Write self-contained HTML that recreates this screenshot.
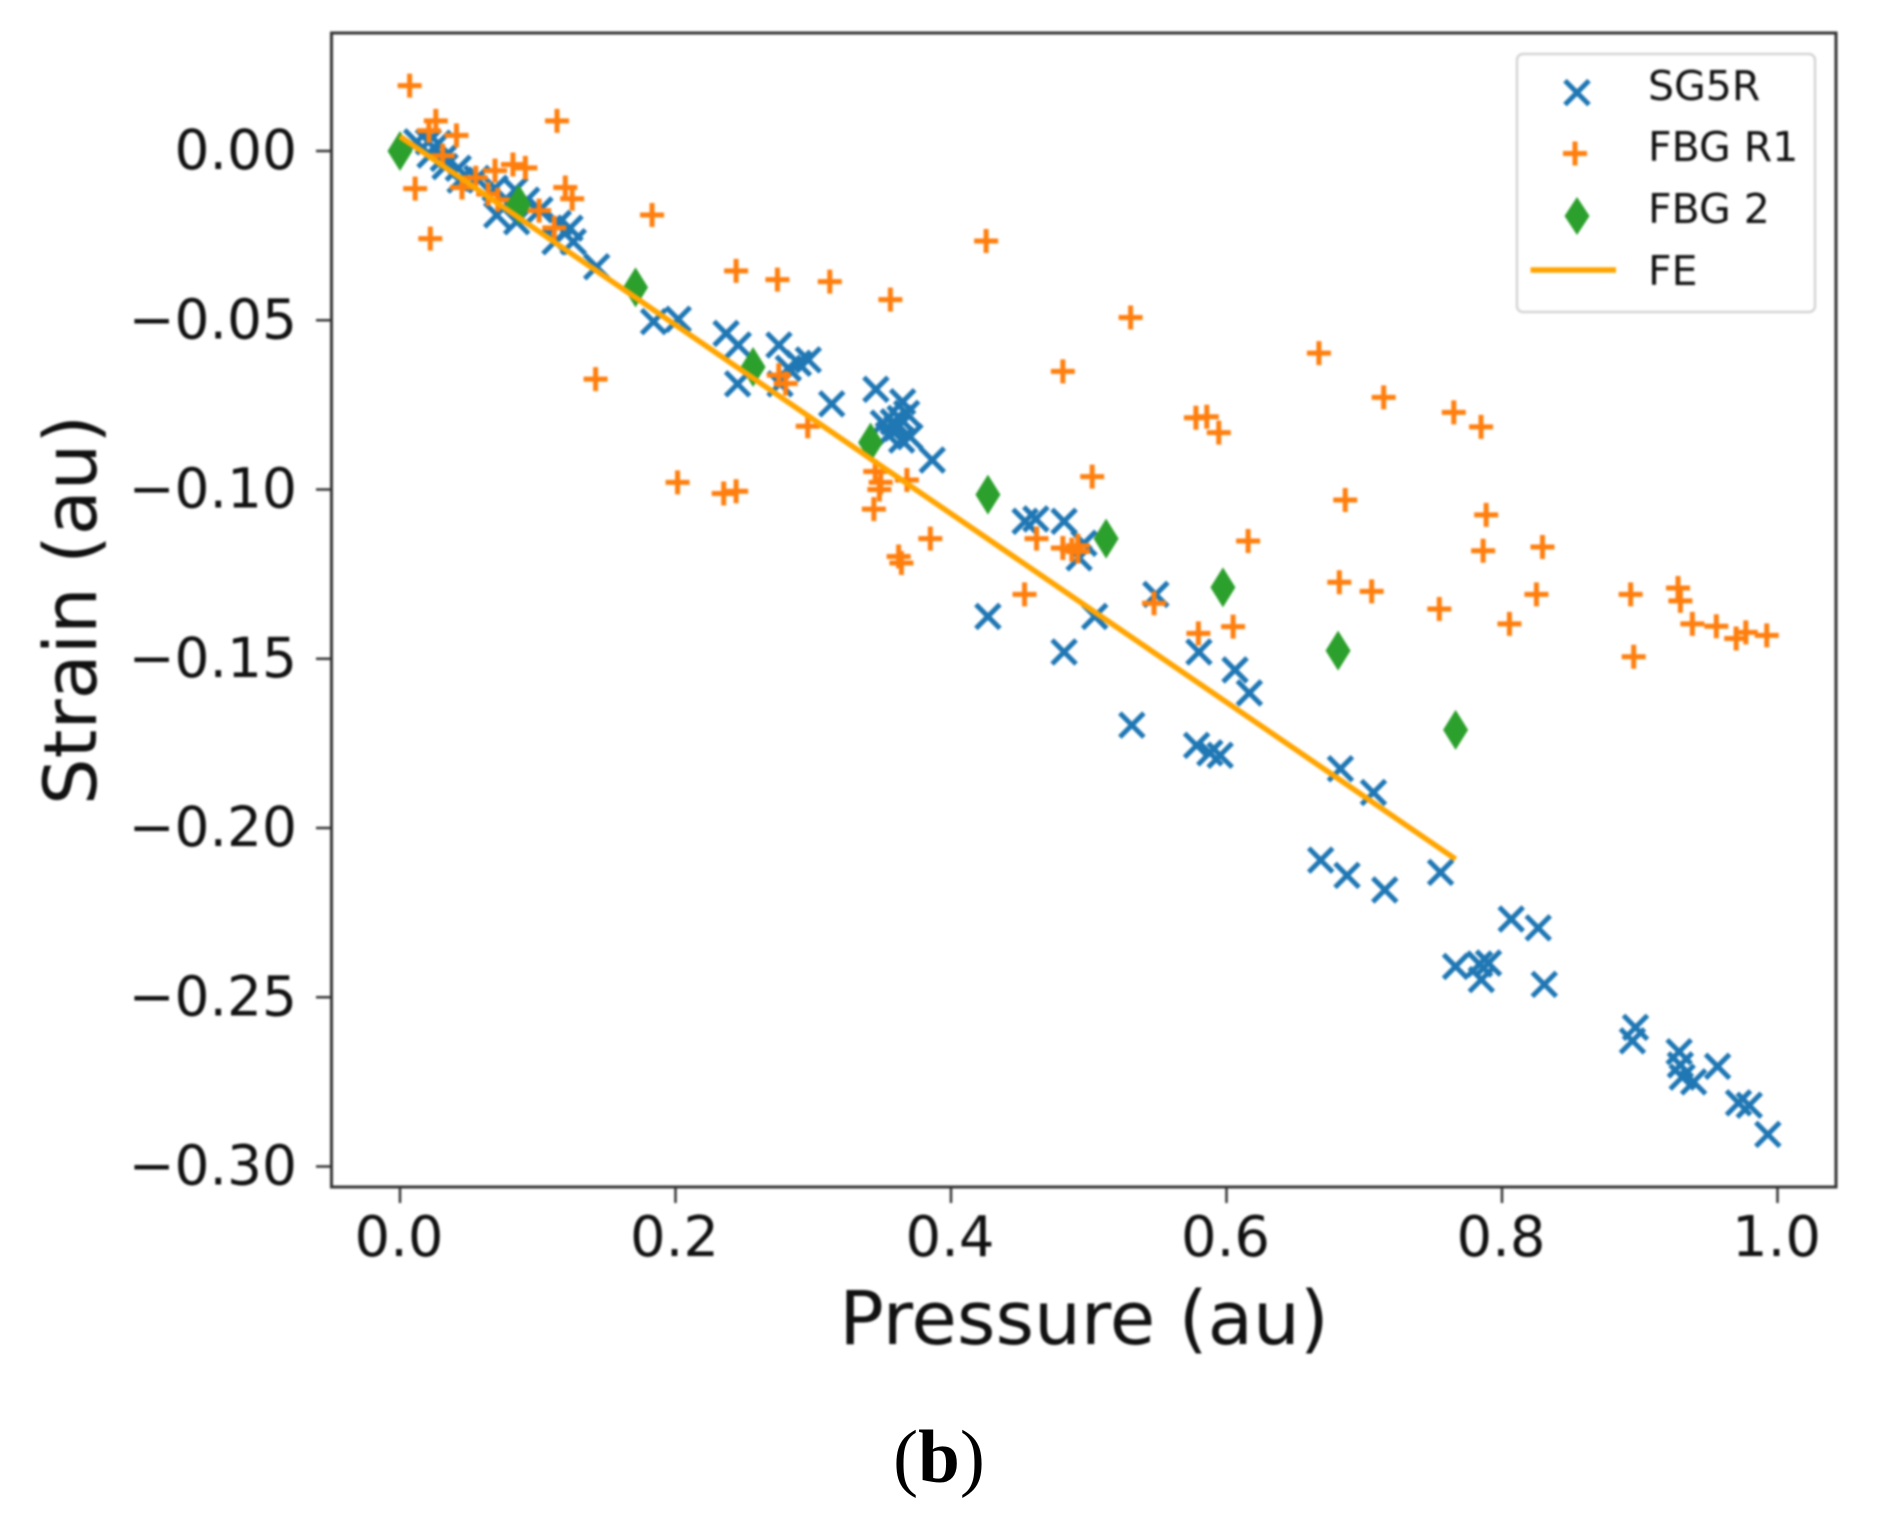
<!DOCTYPE html>
<html lang="en">
<head>
<meta charset="utf-8">
<title>Strain vs Pressure</title>
<style>
  html, body { margin: 0; padding: 0; background: #fff; }
  #stage { position: relative; width: 1877px; height: 1528px; overflow: hidden; background: #fff; }
  #chart { position: absolute; left: 0; top: 0; filter: blur(1px); }
  #chart text { font-family: "DejaVu Sans", "Liberation Sans", sans-serif; fill: #111; }
  #caption { position: absolute; left: 0; top: 0; }
  #caption text { font-family: "Liberation Serif", serif; fill: #000; }
</style>
</head>
<body>
<div id="stage">
  <svg id="chart" width="1877" height="1528" viewBox="0 0 1877 1528" xmlns="http://www.w3.org/2000/svg">
    <g id="marks-sg5r"></g>
    <g id="marks-fbgr1"></g>
    <g id="marks-fbg2"></g>
    <g id="marks-fe"></g>
    <rect x="331.5" y="33" width="1504.5" height="1154" fill="none" stroke="#333" stroke-width="3"/>
    <g id="x-axis"></g>
    <g id="y-axis"></g>
    <text x="1084" y="1344" font-size="74" text-anchor="middle">Pressure (au)</text>
    <text transform="translate(96 610) rotate(-90)" font-size="73.5" text-anchor="middle">Strain (au)</text>
    <g>
      <rect x="1517" y="54" width="298" height="258" rx="6" ry="6" fill="#fff" fill-opacity="0.8" stroke="#d4d4d4" stroke-width="2.5"/>
      <path d="M1565 80.600L1589 104.600M1565 104.600L1589 80.600" fill="none" stroke="#1f77b4" stroke-width="5"/>
      <text x="1648" y="100" font-size="41">SG5R</text>
      <path d="M1563 153.500L1587 153.500M1575 141.500L1575 165.500" fill="none" stroke="#ff7f0e" stroke-width="5"/>
      <text x="1648" y="161" font-size="41">FBG R1</text>
      <path d="M1577 197L1589.500 216L1577 235L1564.500 216Z" fill="#2ca02c"/>
      <text x="1648" y="223" font-size="41">FBG 2</text>
      <line x1="1530.500" y1="270" x2="1616" y2="270" stroke="#ffa500" stroke-width="5.5"/>
      <text x="1648" y="285" font-size="41">FE</text>
    </g>
  </svg>
  <svg id="caption" width="1877" height="1528" viewBox="0 0 1877 1528" xmlns="http://www.w3.org/2000/svg">
    <text x="939" y="1482" font-size="75" text-anchor="middle">(<tspan font-weight="bold">b</tspan>)</text>
  </svg>
</div>
<script>
var xTickValues = [0, 0.2, 0.4, 0.6, 0.8, 1.0];
var xTickLabels = ["0.0", "0.2", "0.4", "0.6", "0.8", "1.0"];
var yTickValues = [0, -0.05, -0.10, -0.15, -0.20, -0.25, -0.30];
var yTickLabels = ["0.00", "\u22120.05", "\u22120.10", "\u22120.15", "\u22120.20", "\u22120.25", "\u22120.30"];

var sg5rPressure = [
  .0121, .0206, .0278, .0218, .0314, .0423, .0327, .0436, .0557, .0690,
  .0835, .0702, .0847, .0920, .1016, .1149, .1234, .1125, .1258, .1428,
  .1841, .2020, .2367, .2456, .2451, .2751, .2964, .2892, .2819, .2759,
  .3134, .3455, .3649, .3509, .3678, .3581, .3630, .3606, .3702, .3642,
  .3545, .3864, .4268, .4538, .4616, .4821, .4930, .4965, .4821, .5043,
  .5487, .5313, .5800, .6062, .6166, .5783, .5879, .5954, .6827, .7067,
  .6684, .6875, .7149, .7554, .8067, .8263, .7663, .7837, .7902, .7850,
  .8307, .8969, .8947, .9286, .9295, .9308, .9391, .9565, .9717, .9795,
  .9930
];
var sg5rStrain = [
  .0027, .0027, .0023, -.0012, -.0022, -.0051, -.0046, -.0086, -.0081, -.0110,
  -.0115, -.0189, -.0209, -.0145, -.0174, -.0214, -.0228, -.0268, -.0268, -.0342,
  -.0504, -.0497, -.0539, -.0573, -.0688, -.0573, -.0617, -.0627, -.0642, -.0688,
  -.0747, -.0704, -.0741, -.0804, -.0775, -.0800, -.0790, -.0819, -.0844, -.0854,
  -.0839, -.0913, -.1375, -.1094, -.1087, -.1094, -.1202, -.1159, -.1480, -.1375,
  -.1310, -.1696, -.1480, -.1533, -.1601, -.1756, -.1778, -.1785, -.1825, -.1895,
  -.2095, -.2140, -.2183, -.2131, -.2269, -.2295, -.2409, -.2402, -.2399, -.2448,
  -.2462, -.2589, -.2629, -.2661, -.2700, -.2736, -.2750, -.2704, -.2812, -.2819,
  -.2905
];

var fbgR1Pressure = [
  .007, .026, .021, .041, .031, .011, .022, .045, .055, .069,
  .082, .091, .114, .120, .125, .064, .071, .101, .112, .183,
  .244, .274, .312, .356, .142, .275, .280, .296, .2015, .235,
  .244, .345, .349, .348, .344, .368, .362, .364, .385,
  .4255, .5304, .4812, .6671, .7141, .5778, .5857, .5944, .7650, .7848,
  .5025, .6862, .7885, .4621, .6157, .4812, .4921, .4921, .4877, .7863,
  .8294, .4534, .5474, .6819, .7054, .8250, .8934, .9278, .9295, .7545,
  .8054, .9382, .9556, .9700, .9770, .9922, .6048, .5796, .8956
];
var fbgR1Strain = [
  .0193, .0089, .0060, .0046, -.0014, -.0111, -.0259, -.0108, -.0079, -.0058,
  -.0040, -.0050, .0089, -.0108, -.0141, -.0127, -.0144, -.0176, -.0227, -.0189,
  -.0354, -.0380, -.0386, -.0439, -.0674, -.0662, -.0687, -.0813, -.0979, -.1012,
  -.1005, -.0947, -.0979, -.1000, -.1058, -.0972, -.1198, -.1217, -.1145,
  -.0266, -.0492, -.0651, -.0597, -.0728, -.0788, -.0785, -.0832, -.0772, -.0815,
  -.0962, -.1031, -.1075, -.1145, -.1152, -.1173, -.1166, -.1183, -.1178, -.1181,
  -.1170, -.1310, -.1336, -.1274, -.1301, -.1310, -.1310, -.1291, -.1329, -.1353,
  -.1397, -.1397, -.1404, -.1440, -.1422, -.1431, -.1405, -.1425, -.1494
];

var fbg2Pressure = [0, .0862, .1710, .2563, .3416, .4268, .5126, .5974, .6810, .7663];
var fbg2Strain = [0, -.0158, -.0403, -.0638, -.0861, -.1015, -.1145, -.1289, -.1476, -.1710];

var fePressure = [0.0, .0862, .1710, .2563, .3416, .4268, .5126, .5974, .6810, .7663];
var feStrain = [.0043, -.0197, -.0433, -.0671, -.0909, -.1146, -.1385, -.1621, -.1854, -.2092];

function xScale(v) { return 400 + 1377.5 * v; }
function yScale(v) { return 151 - 3385 * v; }

var SVGNS = "http://www.w3.org/2000/svg";
function make(tag, parent) {
  var el = document.createElementNS(SVGNS, tag);
  parent.appendChild(el);
  return el;
}

var xAxisGroup = document.getElementById("x-axis");
xTickValues.forEach(function (v, i) {
  var tick = make("line", xAxisGroup);
  
  
  tick.setAttribute("x1", xScale(v));
  tick.setAttribute("x2", xScale(v));
  tick.setAttribute("y1", 1187);
  tick.setAttribute("y2", 1203);
  tick.setAttribute("stroke", "#333");
  tick.setAttribute("stroke-width", 2.5);
  var label = make("text", xAxisGroup);
  
  
  label.setAttribute("x", xScale(v) - 1);
  label.setAttribute("y", 1256);
  label.setAttribute("font-size", 56);
  label.setAttribute("text-anchor", "middle");
  label.textContent = xTickLabels[i];
});

var yAxisGroup = document.getElementById("y-axis");
yTickValues.forEach(function (v, i) {
  var tick = make("line", yAxisGroup);
  
  
  tick.setAttribute("x1", 316);
  tick.setAttribute("x2", 331.5);
  tick.setAttribute("y1", yScale(v));
  tick.setAttribute("y2", yScale(v));
  tick.setAttribute("stroke", "#333");
  tick.setAttribute("stroke-width", 2.5);
  var label = make("text", yAxisGroup);
  
  
  label.setAttribute("x", 297);
  label.setAttribute("y", yScale(v) + 18);
  label.setAttribute("font-size", 55);
  label.setAttribute("text-anchor", "end");
  label.textContent = yTickLabels[i];
});

var sg5rGroup = document.getElementById("marks-sg5r");
sg5rPressure.forEach(function (p, i) {
  var cx = xScale(p), cy = yScale(sg5rStrain[i]), r = 12;
  var mark = make("path", sg5rGroup);
  
  
  mark.setAttribute("d", "M" + (cx - r) + " " + (cy - r) + "L" + (cx + r) + " " + (cy + r) + "M" + (cx - r) + " " + (cy + r) + "L" + (cx + r) + " " + (cy - r));
  mark.setAttribute("fill", "none");
  mark.setAttribute("stroke", "#1f77b4");
  mark.setAttribute("stroke-width", 5);
});

var fbgR1Group = document.getElementById("marks-fbgr1");
fbgR1Pressure.forEach(function (p, i) {
  var cx = xScale(p), cy = yScale(fbgR1Strain[i]), r = 12;
  var mark = make("path", fbgR1Group);
  
  
  mark.setAttribute("d", "M" + (cx - r) + " " + cy + "L" + (cx + r) + " " + cy + "M" + cx + " " + (cy - r) + "L" + cx + " " + (cy + r));
  mark.setAttribute("fill", "none");
  mark.setAttribute("stroke", "#ff7f0e");
  mark.setAttribute("stroke-width", 5);
});

var fbg2Group = document.getElementById("marks-fbg2");
fbg2Pressure.forEach(function (p, i) {
  var cx = xScale(p), cy = yScale(fbg2Strain[i]), w = 12.5, h = 20;
  var mark = make("path", fbg2Group);
  
  
  mark.setAttribute("d", "M" + cx + " " + (cy - h) + "L" + (cx + w) + " " + cy + "L" + cx + " " + (cy + h) + "L" + (cx - w) + " " + cy + "Z");
  mark.setAttribute("fill", "#2ca02c");
});

var feGroup = document.getElementById("marks-fe");
var fePoints = fePressure.map(function (p, i) { return xScale(p) + "," + yScale(feStrain[i]); }).join(" ");
var feLine = make("polyline", feGroup);


feLine.setAttribute("points", fePoints);
feLine.setAttribute("fill", "none");
feLine.setAttribute("stroke", "#ffa500");
feLine.setAttribute("stroke-width", 5.5);
</script>
</body>
</html>
